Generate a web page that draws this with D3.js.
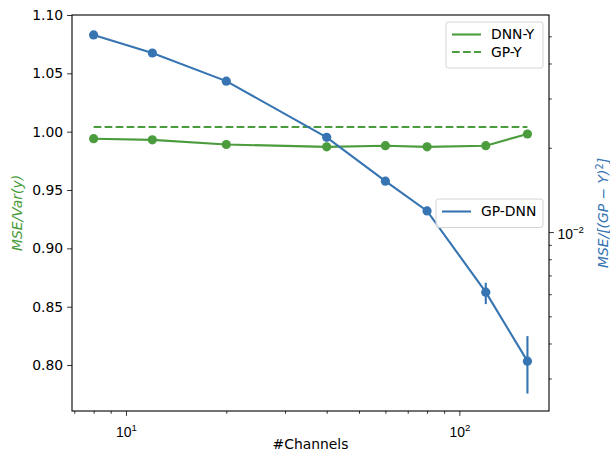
<!DOCTYPE html>
<html>
<head>
<meta charset="utf-8">
<script src="https://cdn.jsdelivr.net/npm/d3@7"></script>
<style>
  body { margin: 0; background: #fff; }
  svg { display: block; font-family: "DejaVu Sans", sans-serif; }
</style>
</head>
<body>
<div id="chart-area"></div>
<script>
// data
let channels = [8, 12, 20, 40, 60, 80, 120, 160];
let dnnY = [0.994, 0.993, 0.989, 0.987, 0.988, 0.987, 0.988, 0.998];
let gpY = [1.004, 1.004, 1.004, 1.004, 1.004, 1.004, 1.004, 1.004];
let gpDnn = [0.0506, 0.0436, 0.0346, 0.0218, 0.0152, 0.0119, 0.0061, 0.00346];
let gpDnnLo = [0.0502, 0.0433, 0.0343, 0.0216, 0.0150, 0.0117, 0.00553, 0.00265];
let gpDnnHi = [0.0510, 0.0439, 0.0349, 0.0220, 0.0154, 0.0121, 0.00659, 0.00425];

let xMajor = [10, 100], xMajorExp = ["1", "2"];
let xMinor = [7, 8, 9, 20, 30, 40, 50, 60, 70, 80, 90];
let leftTicks = [0.80, 0.85, 0.90, 0.95, 1.00, 1.05, 1.10];
let rightMajor = [0.01], rightMajorExp = ["\u22122"];
let rightMinor = [0.003, 0.004, 0.005, 0.006, 0.007, 0.008, 0.009, 0.02, 0.03, 0.04, 0.05];

let green = "#4b9c3c", blue = "#3674b2";

let W = 610, H = 452;
let margin = {top: 15, right: 61, bottom: 41, left: 72};
let width = W - margin.left - margin.right,
    height = H - margin.top - margin.bottom;

let svg = d3.select("#chart-area").append("svg")
    .attr("width", W)
    .attr("height", H);

let g = svg.append("g")
    .attr("transform", "translate(" + margin.left + "," + margin.top + ")");

// scales
let x = d3.scaleLog().domain([6.89, 185.7]).range([0, width]);
let y = d3.scaleLinear().domain([0.7606, 1.10]).range([height, 0]);
let y2 = d3.scaleLog().domain([0.002296, 0.0596]).range([height, 0]);

// axes
function styleAxis(sel) {
    sel.select(".domain").remove();
    sel.selectAll("line").attr("stroke", "#000").attr("stroke-width", 0.8);
    sel.selectAll("text").attr("fill", "#000").style("font-size", "13.9px")
        .style("font-family", "DejaVu Sans");
}

let xAxisMinor = d3.axisBottom(x).tickValues(xMinor).tickSize(2.8).tickFormat("");
g.append("g").attr("transform", "translate(0," + height + ")").call(xAxisMinor).call(styleAxis);

let xAxis = d3.axisBottom(x).tickValues(xMajor).tickSize(4.9).tickPadding(5).tickFormat("");
let xg = g.append("g").attr("transform", "translate(0," + height + ")").call(xAxis).call(styleAxis);
xg.selectAll(".tick").each(function (d, i) {
    let t = d3.select(this).append("text")
        .attr("y", 26).attr("text-anchor", "middle")
        .style("font-size", "13.9px").attr("fill", "#000");
    t.append("tspan").text("10");
    t.append("tspan").attr("dy", -6).style("font-size", "9.7px").text(xMajorExp[i]);
});

let yAxis = d3.axisLeft(y).tickValues(leftTicks).tickSize(4.9).tickPadding(4)
    .tickFormat(d3.format(".2f"));
g.append("g").call(yAxis).call(styleAxis);

let y2Minor = d3.axisRight(y2).tickValues(rightMinor).tickSize(2.8).tickFormat("");
g.append("g").attr("transform", "translate(" + width + ",0)").call(y2Minor).call(styleAxis);

let y2Axis = d3.axisRight(y2).tickValues(rightMajor).tickSize(4.9).tickFormat("");
let y2g = g.append("g").attr("transform", "translate(" + width + ",0)").call(y2Axis).call(styleAxis);
y2g.selectAll(".tick").each(function (d, i) {
    let t = d3.select(this).append("text")
        .attr("x", 8.5).attr("dy", "0.45em")
        .style("font-size", "13.9px").attr("fill", "#000");
    t.append("tspan").text("10");
    t.append("tspan").attr("dy", -6).style("font-size", "9.7px").text(rightMajorExp[i]);
});

// axis labels
svg.append("text")
    .attr("transform", "translate(17," + (margin.top + height / 2) + ") rotate(-90)")
    .attr("text-anchor", "middle").attr("dy", "0.35em")
    .style("font-size", "13.9px").style("font-style", "italic")
    .attr("fill", green)
    .text("MSE/Var(y)");

let rl = svg.append("text")
    .attr("transform", "translate(603," + (margin.top + height / 2) + ") rotate(-90)")
    .attr("text-anchor", "middle").attr("dy", "0.35em")
    .style("font-size", "13.9px").style("font-style", "italic")
    .attr("fill", blue);
rl.append("tspan").text("MSE/[(GP \u2212 Y)");
rl.append("tspan").attr("dy", -5).style("font-size", "9.7px").style("font-style", "normal").text("2");
rl.append("tspan").attr("dy", 5).text("]");

svg.append("text")
    .attr("x", margin.left + width / 2).attr("y", 449)
    .attr("text-anchor", "middle")
    .style("font-size", "13.9px").attr("fill", "#000")
    .text("#Channels");

// green series (left axis)
let lineL = d3.line().x((d, i) => x(channels[i])).y(d => y(d));

g.append("path").datum(gpY)
    .attr("fill", "none").attr("stroke", green).attr("stroke-width", 2.1)
    .attr("stroke-dasharray", "7.7,3.3")
    .attr("d", lineL);

g.append("path").datum(dnnY)
    .attr("fill", "none").attr("stroke", green).attr("stroke-width", 2.1)
    .attr("d", lineL);

g.selectAll(".dot-green").data(dnnY).enter().append("circle")
    .attr("class", "dot-green")
    .attr("cx", (d, i) => x(channels[i]))
    .attr("cy", d => y(d))
    .attr("r", 4.6)
    .style("fill", green);

// legends
function legend(lx, ly, w, rows) {
    let lg = g.append("g").attr("transform", "translate(" + lx + "," + ly + ")");
    lg.append("rect")
        .attr("width", w).attr("height", 11 + rows.length * 17.5)
        .attr("rx", 2.5)
        .attr("fill", "#fff").attr("fill-opacity", 0.8)
        .attr("stroke", "#d4d4d4").attr("stroke-width", 1);
    rows.forEach(function (r, i) {
        let yy = 12.5 + i * 17.5;
        lg.append("line")
            .attr("x1", 6).attr("x2", 35).attr("y1", yy).attr("y2", yy)
            .attr("stroke", r.color).attr("stroke-width", 2.1)
            .attr("stroke-dasharray", r.dash ? "7.7,3.3" : null);
        lg.append("text")
            .attr("x", 45).attr("y", yy).attr("dy", "0.35em")
            .style("font-size", "13.9px").attr("fill", "#000")
            .text(r.label);
    });
}

legend(446 - margin.left, 22 - margin.top, 97, [
    {label: "DNN-Y", color: green, dash: false},
    {label: "GP-Y", color: green, dash: true}
]);

// blue series (right axis)
let lineR = d3.line().x((d, i) => x(channels[i])).y(d => y2(d));

g.append("path").datum(gpDnn)
    .attr("fill", "none").attr("stroke", blue).attr("stroke-width", 2.1)
    .attr("d", lineR);

g.selectAll(".err").data(gpDnn).enter().append("line")
    .attr("class", "err")
    .attr("x1", (d, i) => x(channels[i]))
    .attr("x2", (d, i) => x(channels[i]))
    .attr("y1", (d, i) => y2(gpDnnLo[i]))
    .attr("y2", (d, i) => y2(gpDnnHi[i]))
    .attr("stroke", blue).attr("stroke-width", 2.1);

g.selectAll(".dot-blue").data(gpDnn).enter().append("circle")
    .attr("class", "dot-blue")
    .attr("cx", (d, i) => x(channels[i]))
    .attr("cy", d => y2(d))
    .attr("r", 4.6)
    .style("fill", blue);

legend(436 - margin.left, 199 - margin.top, 107, [
    {label: "GP-DNN", color: blue, dash: false}
]);

// frame
g.append("rect")
    .attr("width", width).attr("height", height)
    .attr("fill", "none").attr("stroke", "#000").attr("stroke-width", 1.1);
</script>
</body>
</html>
